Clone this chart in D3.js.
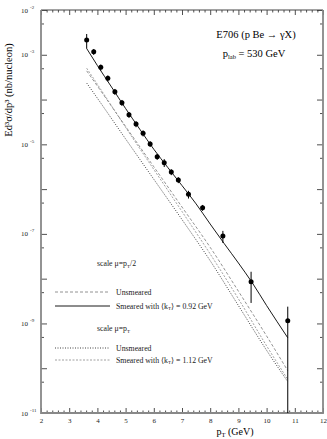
<!DOCTYPE html>
<html>
<head>
<meta charset="utf-8">
<script src="https://cdn.jsdelivr.net/npm/d3@7"></script>
<style>
  body { margin: 0; background: #fff; }
  svg { display: block; font-family: "Liberation Serif", "DejaVu Serif", serif; }
</style>
</head>
<body>
<svg id="chart" width="327" height="439"></svg>
<script>
// plot box
const WIDTH = 327;
const HEIGHT = 439;
const MARGIN = { left: 41, right: 4, top: 10, bottom: 26 };

// E706 data points
const dataPt  = [3.62, 3.87, 4.12, 4.37, 4.62, 4.87, 5.12, 5.37, 5.62, 5.87, 6.12, 6.37, 6.62, 6.87, 7.23, 7.73, 8.45, 9.45, 10.75];
const dataVal = [2.14e-3, 1.17e-3, 5.25e-4, 2.99e-4, 1.50e-4, 8.51e-5, 4.59e-5, 2.84e-5, 1.77e-5, 1.02e-5,
                 5.30e-6, 3.89e-6, 2.41e-6, 1.60e-6, 7.66e-7, 3.85e-7, 8.97e-8, 8.57e-9, 1.15e-9];
const dataErr = [7.7e-4, 1.76e-4, 7.9e-5, 4.5e-5, 2.25e-5, 1.28e-5, 6.9e-6, 4.3e-6, 2.7e-6, 1.5e-6,
                 8.0e-7, 7.8e-7, 3.6e-7, 2.4e-7, 1.5e-7, 5.8e-8, 2.7e-8, 5.7e-9, 1.22e-9];

// theory curves
const smearPt = [3.62, 4, 4.5, 5, 5.5, 6, 6.5, 7, 7.5, 8, 8.5, 9, 9.5, 10, 10.75];
const smearHalf = [1.38e-3, 5.75e-4, 1.91e-4, 6.31e-5, 2.19e-5, 7.76e-6, 3.02e-6, 1.20e-6, 4.68e-7,
                   1.66e-7, 6.03e-8, 2.24e-8, 7.94e-9, 2.51e-9, 4.79e-10];
const curvePt = [3.62, 4, 5, 6, 7, 8, 9, 10, 10.75];
const unsmearHalf = [4.37e-4, 2.00e-4, 2.51e-5, 3.16e-6, 3.98e-7, 5.01e-8, 5.25e-9, 5.25e-10, 8.81e-11];
const unsmearFull = [2.34e-4, 1.07e-4, 1.32e-5, 1.66e-6, 2.09e-7, 2.51e-8, 2.51e-9, 2.51e-10, 5.01e-11];
const smearFull   = [5.01e-4, 2.19e-4, 2.40e-5, 2.75e-6, 3.16e-7, 3.55e-8, 3.55e-9, 3.16e-10, 5.62e-11];

// axis ticks
const xMajor = [2, 3, 4, 5, 6, 7, 8, 9, 10, 11, 12];
const yDecades = [-2, -3, -4, -5, -6, -7, -8, -9, -10, -11];
const yLabelExp = [-2, -3, -5, -7, -9, -11];

const svg = d3.select("#chart");

const x = d3.scaleLinear().domain([2, 12]).range([MARGIN.left, WIDTH - MARGIN.right]);
const y = d3.scaleLog().domain([1e-11, 1e-2]).range([HEIGHT - MARGIN.bottom, MARGIN.top]);

const xMinor = d3.range(20, 121, 2).map(d => d / 10).filter(d => !Number.isInteger(d));
const yMajorVals = yDecades.map(e => Math.pow(10, e));
const yMinorVals = yDecades.slice(0, -1).map(e => 5 * Math.pow(10, e - 1));

function styleAxis (g) {
  g.select(".domain").remove();
  g.selectAll("line").attr("stroke", "#222").attr("stroke-width", 0.8);
  g.selectAll("text").attr("font-family", "Liberation Serif").attr("font-size", 7).attr("fill", "#222");
}

// bottom axis
svg.append("g")
  .attr("transform", `translate(0,${y.range()[0]})`)
  .call(d3.axisBottom(x).tickValues(xMajor).tickSize(-5).tickPadding(5).tickFormat(d3.format("d")))
  .call(styleAxis);
svg.append("g")
  .attr("transform", `translate(0,${y.range()[0]})`)
  .call(d3.axisBottom(x).tickValues(xMinor).tickSize(-2.5).tickFormat(""))
  .call(styleAxis);
// top axis
svg.append("g")
  .attr("transform", `translate(0,${MARGIN.top})`)
  .call(d3.axisTop(x).tickValues(xMajor).tickSize(-5).tickFormat(""))
  .call(styleAxis);
svg.append("g")
  .attr("transform", `translate(0,${MARGIN.top})`)
  .call(d3.axisTop(x).tickValues(xMinor).tickSize(-2.5).tickFormat(""))
  .call(styleAxis);
// left + right axes
[[d3.axisLeft, MARGIN.left], [d3.axisRight, WIDTH - MARGIN.right]].forEach(([ax, pos]) => {
  svg.append("g")
    .attr("transform", `translate(${pos},0)`)
    .call(ax(y).tickValues(yMajorVals).tickSize(-6).tickFormat(""))
    .call(styleAxis);
  svg.append("g")
    .attr("transform", `translate(${pos},0)`)
    .call(ax(y).tickValues(yMinorVals).tickSize(-3).tickFormat(""))
    .call(styleAxis);
});

// frame
const frame = svg.append("g").attr("fill", "none");
frame.append("line")
  .attr("x1", x(2)).attr("x2", x(12)).attr("y1", y(1e-2)).attr("y2", y(1e-2))
  .attr("stroke", "#444").attr("stroke-width", 1);
frame.append("path")
  .attr("d", `M${x(2)},${y(1e-2)}V${y(1e-11)}H${x(12)}V${y(1e-2)}`)
  .attr("stroke", "#888").attr("stroke-width", 1.8);

// y tick labels 10^n
yLabelExp.forEach(e => {
  svg.append("text")
    .attr("x", 28).attr("y", y(Math.pow(10, e)) + 2.5)
    .attr("text-anchor", "end")
    .attr("font-size", 7).attr("fill", "#222")
    .text("10");
  svg.append("text")
    .attr("x", 30).attr("y", y(Math.pow(10, e)) - 1.5)
    .attr("font-size", 5).attr("fill", "#222")
    .text(e);
});

// axis titles
svg.append("text")
  .attr("transform", `translate(12,90) rotate(-90)`)
  .attr("text-anchor", "middle")
  .attr("font-size", 10.5)
  .text("Ed³σ/dp³ (nb/nucleon)");

const xt = svg.append("text")
  .attr("x", 235).attr("y", 435)
  .attr("text-anchor", "middle")
  .attr("font-size", 10);
xt.append("tspan").text("p");
xt.append("tspan").attr("font-size", 6.5).attr("dy", 2).text("T");
xt.append("tspan").attr("dy", -2).text(" (GeV)");

// experiment label
svg.append("text")
  .attr("x", 256).attr("y", 38)
  .attr("text-anchor", "middle")
  .attr("font-size", 10.5)
  .text("E706 (p Be → γX)");
const lab = svg.append("text")
  .attr("x", 254).attr("y", 57)
  .attr("text-anchor", "middle")
  .attr("font-size", 10.5);
lab.append("tspan").text("p");
lab.append("tspan").attr("font-size", 6.5).attr("dy", 2).text("lab");
lab.append("tspan").attr("dy", -2).text(" = 530 GeV");

// curves
const line = d3.line()
  .x(d => x(d[0]))
  .y(d => y(d[1]))
  .curve(d3.curveMonotoneX);

const curves = [
  { pt: curvePt, val: unsmearHalf, stroke: "#777", width: 0.8, dash: "3,2" },
  { pt: curvePt, val: smearFull, stroke: "#888", width: 0.8, dash: "2,1.5" },
  { pt: curvePt, val: unsmearFull, stroke: "#111", width: 0.8, dash: "1,1.5" },
  { pt: smearPt, val: smearHalf, stroke: "#000", width: 0.9, dash: null }
];

svg.selectAll("path.curve")
  .data(curves)
  .join("path")
  .attr("class", "curve")
  .attr("fill", "none")
  .attr("stroke", d => d.stroke)
  .attr("stroke-width", d => d.width)
  .attr("stroke-dasharray", d => d.dash)
  .attr("d", d => line(d.pt.map((p, i) => [p, d.val[i]])));

// data points with error bars
const points = dataPt.map((p, i) => ({ pt: p, val: dataVal[i], err: dataErr[i] }));

svg.selectAll("line.err")
  .data(points)
  .join("line")
  .attr("class", "err")
  .attr("x1", d => x(d.pt)).attr("x2", d => x(d.pt))
  .attr("y1", d => y(d.val + d.err))
  .attr("y2", d => y(Math.max(d.val - d.err, 1e-11)))
  .attr("stroke", "#000")
  .attr("stroke-width", 1);

svg.selectAll("circle.pt")
  .data(points)
  .join("circle")
  .attr("class", "pt")
  .attr("cx", d => x(d.pt))
  .attr("cy", d => y(d.val))
  .attr("r", 2.5)
  .attr("fill", "#000");

// legend
const legend = svg.append("g").attr("font-size", 7.8).attr("fill", "#222");

function scaleLabel (yPos, text, suffix) {
  const t = legend.append("text").attr("x", 97).attr("y", yPos);
  t.append("tspan").text(text);
  t.append("tspan").attr("font-size", 5).attr("dy", 1.5).text("T");
  t.append("tspan").attr("dy", -1.5).text(suffix);
}

function legendRow (yPos, c, parts) {
  legend.append("line")
    .attr("x1", 55).attr("x2", 110).attr("y1", yPos).attr("y2", yPos)
    .attr("stroke", c.stroke).attr("stroke-width", c.width)
    .attr("stroke-dasharray", c.dash);
  const t = legend.append("text").attr("x", 116).attr("y", yPos + 2.5);
  parts.forEach(p => {
    const s = t.append("tspan").text(p.t);
    if (p.sub) s.attr("font-size", 5).attr("dy", 1.5);
    if (p.up) s.attr("dy", -1.5);
  });
}

scaleLabel(266, "scale μ=p", "/2");
legendRow(292, curves[0], [{ t: "Unsmeared" }]);
legendRow(306, curves[3], [{ t: "Smeared with ⟨k" }, { t: "T", sub: true }, { t: "⟩ = 0.92 GeV", up: true }]);
scaleLabel(331, "scale μ=p", "");
legendRow(348, curves[2], [{ t: "Unsmeared" }]);
legendRow(360, curves[1], [{ t: "Smeared with ⟨k" }, { t: "T", sub: true }, { t: "⟩ = 1.12 GeV", up: true }]);
</script>
</body>
</html>
